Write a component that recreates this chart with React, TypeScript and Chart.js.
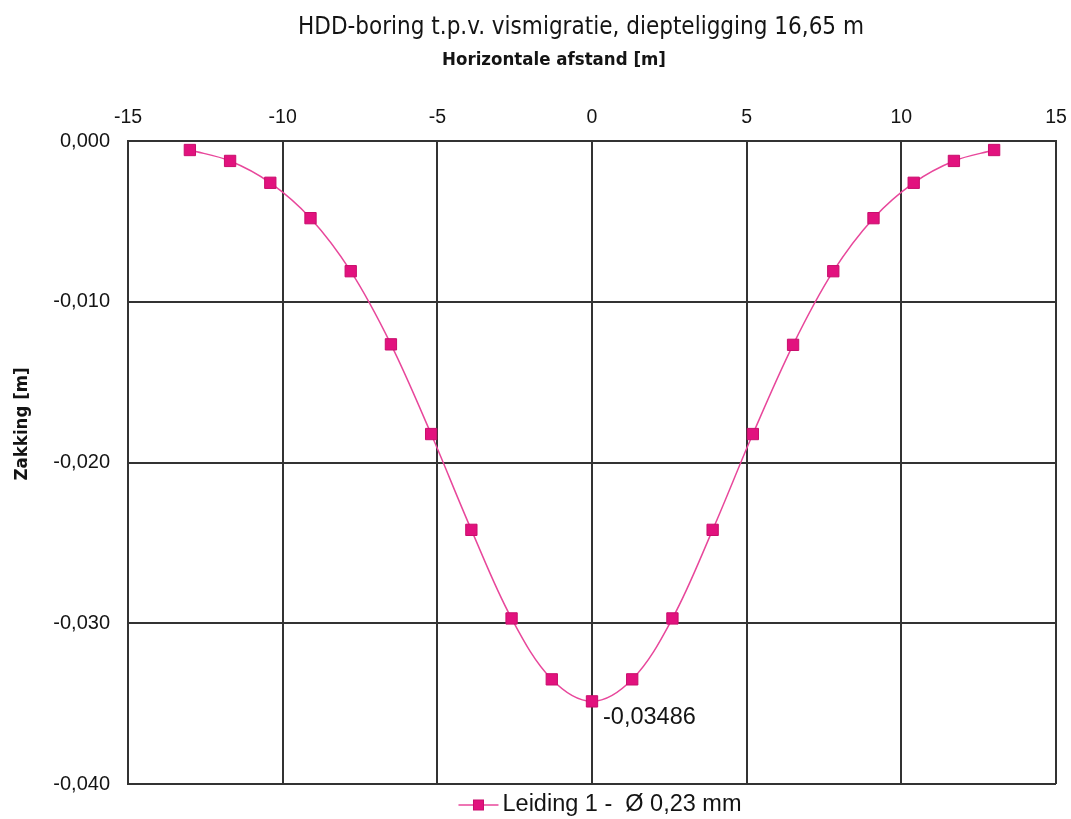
import React, { useEffect, useRef } from 'react';
import { Chart, registerables } from 'chart.js';

Chart.register(...registerables);

// ---- data ----
const xValues: number[] = [-13, -11.7, -10.4, -9.1, -7.8, -6.5, -5.2, -3.9, -2.6, -1.3, 0, 1.3, 2.6, 3.9, 5.2, 6.5, 7.8, 9.1, 10.4, 11.7, 13];
const yValues: number[] = [
  -0.00056, -0.00124, -0.0026, -0.0048, -0.0081, -0.01265, -0.01823, -0.02419, -0.0297, -0.03349,
  -0.03486,
  -0.03349, -0.0297, -0.02419, -0.01823, -0.01268, -0.0081, -0.0048, -0.0026, -0.00124, -0.00056,
];
const xTickValues: number[] = [-15, -10, -5, 0, 5, 10, 15];
const yTickValues: number[] = [0, -0.01, -0.02, -0.03, -0.04];

const titleText = 'HDD-boring t.p.v. vismigratie, diepteligging 16,65 m';
const xTitle = 'Horizontale afstand [m]';
const yTitle = 'Zakking [m]';
const seriesLabel = 'Leiding 1 -  Ø 0,23 mm';
const minLabel = '-0,03486';

const LINE = '#E8479B';
const MARK = '#E2127E';
const MARK_EDGE = '#C80E6C';
const GRID = '#333333';
const TEXT = '#141414';

const NARROW = '"Liberation Sans Narrow", "DejaVu Sans Condensed", "Liberation Sans", sans-serif';
const SANS = '"Liberation Sans", Arial, sans-serif';

const decorations = {
  id: 'decorations',
  beforeDraw(chart: any) {
    const { ctx } = chart;
    ctx.save();
    ctx.fillStyle = '#ffffff';
    ctx.fillRect(0, 0, chart.width, chart.height);
    ctx.restore();
  },
  afterDraw(chart: any) {
    const { ctx, chartArea } = chart;
    const cx = (chartArea.left + chartArea.right) / 2;
    ctx.save();
    ctx.fillStyle = TEXT;
    ctx.textBaseline = 'middle';
    ctx.textAlign = 'center';

    // chart title
    ctx.font = `normal 24px ${NARROW}`;
    ctx.fillText(titleText, cx - 11, 28);

    // x axis title (axis is on top)
    ctx.font = `bold 18.5px ${NARROW}`;
    ctx.fillText(xTitle, cx - 38, 60);

    // y axis title
    ctx.save();
    ctx.translate(22, chartArea.top + (chartArea.bottom - chartArea.top) * 0.44);
    ctx.rotate(-Math.PI / 2);
    ctx.font = `bold 18.5px ${NARROW}`;
    ctx.fillText(yTitle, 0, 0);
    ctx.restore();

    // label at the minimum point
    const meta = chart.getDatasetMeta(0);
    let minIdx = 0;
    yValues.forEach((v, i) => { if (v < yValues[minIdx]) minIdx = i; });
    const pt = meta.data[minIdx];
    ctx.textAlign = 'left';
    ctx.font = `normal 23.5px ${SANS}`;
    ctx.fillText(minLabel, pt.x + 11, pt.y + 16);

    // legend (below the plot)
    ctx.font = `normal 23.5px ${SANS}`;
    const textW = ctx.measureText(seriesLabel).width;
    const markerW = 40;
    const gap = 4;
    const total = markerW + gap + textW;
    const lx = cx + 8 - total / 2;
    const ly = chartArea.bottom + 21;
    ctx.strokeStyle = LINE;
    ctx.lineWidth = 1.5;
    ctx.beginPath();
    ctx.moveTo(lx, ly);
    ctx.lineTo(lx + markerW, ly);
    ctx.stroke();
    ctx.fillStyle = MARK;
    ctx.strokeStyle = MARK_EDGE;
    ctx.lineWidth = 1;
    ctx.fillRect(lx + markerW / 2 - 5, ly - 5, 10, 10);
    ctx.strokeRect(lx + markerW / 2 - 5, ly - 5, 10, 10);
    ctx.fillStyle = TEXT;
    ctx.fillText(seriesLabel, lx + markerW + gap, ly);
    ctx.restore();
  },
};

const fmtY = (v: number) => {
  const s = Math.abs(v).toFixed(3).replace('.', ',');
  return (v < -1e-9 ? '-' : '') + s;
};

export default function App() {
  const ref = useRef<HTMLCanvasElement | null>(null);

  useEffect(() => {
    document.body.style.margin = '0';
    const canvas = ref.current;
    if (!canvas) return;
    const data = xValues.map((x, i) => ({ x, y: yValues[i] }));
    const chart = new Chart(canvas, {
      type: 'scatter',
      data: {
        datasets: [
          {
            label: seriesLabel,
            data,
            showLine: true,
            tension: 0.35,
            borderColor: LINE,
            borderWidth: 1.5,
            pointStyle: 'rect',
            pointRadius: 8,
            pointBackgroundColor: MARK,
            pointBorderColor: MARK_EDGE,
            pointBorderWidth: 1,
          },
        ],
      },
      plugins: [decorations],
      options: {
        responsive: false,
        animation: false,
        devicePixelRatio: 1,
        layout: { padding: { left: 0, right: 15, top: 0, bottom: 35 } },
        plugins: {
          legend: { display: false },
          title: { display: false },
          tooltip: { enabled: false },
        },
        scales: {
          x: {
            type: 'linear',
            position: 'top',
            min: xTickValues[0],
            max: xTickValues[xTickValues.length - 1],
            afterBuildTicks: (scale: any) => {
              scale.ticks = xTickValues.map((v) => ({ value: v }));
            },
            ticks: {
              color: TEXT,
              font: { family: SANS, size: 19.5 },
              padding: 0,
              maxRotation: 0,
              callback: (v: any) => String(v),
            },
            grid: { color: GRID, lineWidth: 2, drawTicks: true, tickLength: 12, tickColor: 'rgba(0,0,0,0)' },
            border: { display: true, color: GRID, width: 2 },
            afterFit: (scale: any) => {
              scale.height = 141;
            },
          },
          y: {
            type: 'linear',
            min: yTickValues[yTickValues.length - 1],
            max: yTickValues[0],
            afterBuildTicks: (scale: any) => {
              scale.ticks = yTickValues.map((v) => ({ value: v }));
            },
            ticks: {
              color: TEXT,
              font: { family: SANS, size: 20 },
              padding: 18,
              callback: (v: any) => fmtY(Number(v)),
            },
            grid: { color: GRID, lineWidth: 2, drawTicks: false },
            border: { display: true, color: GRID, width: 2 },
            afterFit: (scale: any) => {
              scale.width = 128;
            },
          },
        },
      },
    });
    return () => chart.destroy();
  }, []);

  return (
    <div style={{ width: 1071, height: 819, position: 'relative', background: '#fff' }}>
      <canvas ref={ref} width={1071} height={819} style={{ display: 'block' }} />
    </div>
  );
}
